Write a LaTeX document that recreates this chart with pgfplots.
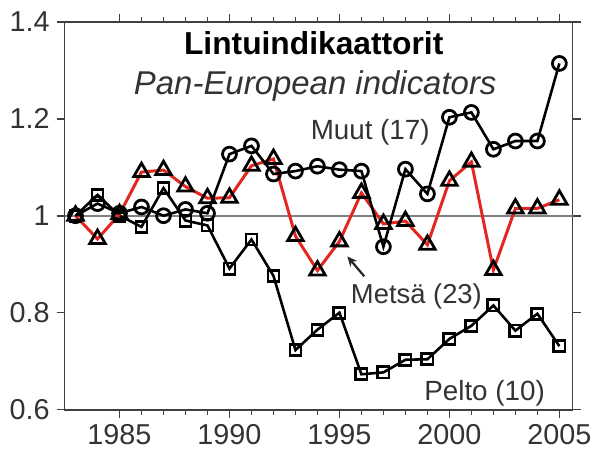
\documentclass[border=0pt]{standalone}
\usepackage{fontspec}
\setmainfont{Liberation Sans}
\usepackage{pgfplots}
\pgfplotsset{compat=1.18}
\usetikzlibrary{arrows.meta}
\definecolor{txt}{HTML}{333333}
\definecolor{redl}{HTML}{E3261F}
\begin{document}
\begin{tikzpicture}
\begin{axis}[
  scale only axis, width=256pt, height=195.5pt,
  xmin=1982.5, xmax=2005.6, ymin=0.6, ymax=1.4,
  xtick={1985,1990,1995,2000,2005}, minor x tick num=4,
  ytick={0.6,0.8,1,1.2,1.4},
  yticklabels={0.6,0.8,1,1.2,1.4},
  xticklabels={1985,1990,1995,2000,2005},
  tick align=outside,
  major tick length=4pt, minor tick length=2.5pt,
  tick style={black!75, line width=0.8pt},
  axis line style={black!75, line width=0.9pt},
  ticklabel style={font=\fontsize{14.5}{16}\selectfont, text=txt},
  /pgf/number format/assume math mode=true,
  clip=false,
]
\path (rel axis cs:-0.127,-0.1304) rectangle (rel axis cs:1.041,1.056);
\draw[black!50, line width=0.8pt] (axis cs:1982.5,1) -- (axis cs:2005.6,1);
% Pelto (10)
\addplot[black, line width=1.3pt, mark=square, mark size=2.8pt, mark options={line width=1.4pt, fill=none}] coordinates {
(1983,1.00)(1984,1.043)(1985,1.00)(1986,0.977)(1987,1.057)(1988,0.99)(1989,0.98)
(1990,0.891)(1991,0.951)(1992,0.876)(1993,0.723)(1994,0.765)(1995,0.80)
(1996,0.673)(1997,0.677)(1998,0.703)(1999,0.704)(2000,0.746)(2001,0.773)
(2002,0.815)(2003,0.763)(2004,0.798)(2005,0.731)};
% Metsa (23)
\addplot[redl, line width=1.5pt, mark=triangle, mark size=4.5pt, mark options={black, line width=1.4pt, fill=none}] coordinates {
(1983,1.00)(1984,0.952)(1985,1.003)(1986,1.09)(1987,1.094)(1988,1.06)(1989,1.036)
(1990,1.037)(1991,1.103)(1992,1.117)(1993,0.958)(1994,0.887)(1995,0.947)
(1996,1.047)(1997,0.983)(1998,0.989)(1999,0.94)(2000,1.072)(2001,1.111)
(2002,0.888)(2003,1.015)(2004,1.015)(2005,1.033)};
% Muut (17)
\addplot[black, line width=1.3pt, mark=o, mark size=3.5pt, mark options={line width=1.4pt, fill=none}] coordinates {
(1983,1.00)(1984,1.025)(1985,1.005)(1986,1.018)(1987,1.00)(1988,1.013)(1989,1.005)
(1990,1.127)(1991,1.144)(1992,1.086)(1993,1.092)(1994,1.102)(1995,1.095)
(1996,1.092)(1997,0.936)(1998,1.096)(1999,1.045)(2000,1.203)(2001,1.213)
(2002,1.137)(2003,1.154)(2004,1.154)(2005,1.314)};
\node[anchor=base, font=\fontsize{16}{18}\selectfont\bfseries] at (axis cs:1993.83,1.332) {Lintuindikaattorit};
\node[anchor=base, font=\fontsize{16.6}{18}\selectfont\itshape, text=txt] at (axis cs:1993.9,1.250) {Pan-European indicators};
\node[anchor=base, font=\fontsize{14}{15}\selectfont, text=txt] at (axis cs:1996.4,1.158) {Muut (17)};
\node[anchor=base, font=\fontsize{13.8}{15}\selectfont, text=txt] at (axis cs:1998.5,0.8195) {Metsä (23)};
\node[anchor=base, font=\fontsize{14}{15}\selectfont, text=txt] at (axis cs:2001.6,0.618) {Pelto (10)};
\draw[-{Stealth[length=5pt,width=4.5pt]}, line width=1.1pt, black!85] (axis cs:1996.13,0.875) -- (axis cs:1995.36,0.916);
\end{axis}
\end{tikzpicture}
\end{document}
